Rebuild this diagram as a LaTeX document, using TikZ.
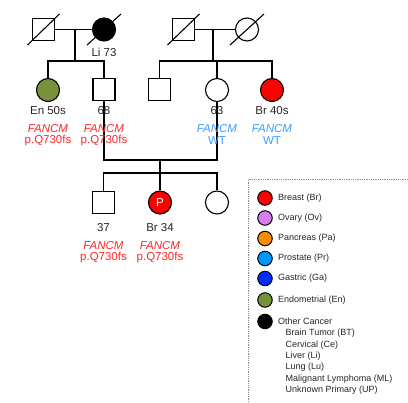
\documentclass[tikz,border=0pt]{standalone}
\usepackage{fontspec}
\setmainfont{Liberation Sans}
\definecolor{tred}{RGB}{255,40,40}
\definecolor{tblue}{RGB}{60,155,255}
\definecolor{cgreen}{RGB}{118,146,58}
\definecolor{cviolet}{RGB}{215,125,240}
\definecolor{corange}{RGB}{255,140,0}
\definecolor{cprost}{RGB}{0,150,255}
\definecolor{cgast}{RGB}{0,45,255}
\begin{document}
\begin{tikzpicture}[x=1pt,y=-1pt,
  male/.style={draw, rectangle, minimum size=22pt, inner sep=0pt, line width=1.1pt, fill=white},
  female/.style={draw, circle, minimum size=23pt, inner sep=0pt, line width=1.1pt, fill=white},
  con/.style={line width=1.1pt},
  dead/.style={line width=1.1pt},
  lbl/.style={font=\fontsize{11.5}{13}\selectfont, inner sep=0pt, text=black!85},
  mutr/.style={font=\fontsize{11.5}{13}\selectfont, inner sep=0pt, text=tred},
  mutb/.style={font=\fontsize{11.5}{13}\selectfont, inner sep=0pt, text=tblue},
  legc/.style={draw, circle, minimum size=14.5pt, inner sep=0pt, line width=1pt},
  legt/.style={font=\fontsize{9}{10}\selectfont, anchor=west, inner sep=0pt, text=black!85},
]
\useasboundingbox (0,0) rectangle (408,403);
% Generation 1 left
\node[male] (gf1) at (43.5,29.5) {};
\node[female, fill=black] (gm1) at (104,29.5) {};
\draw[dead] ([shift={(-16,15.5)}]gf1.center) -- ([shift={(16,-15.5)}]gf1.center);
\draw[dead] ([shift={(-17,15.5)}]gm1.center) -- ([shift={(17,-15.5)}]gm1.center);
\coordinate (m1) at (75,29.5);
\coordinate (d1) at (75,61);
\draw[con] (gf1.east) -- (gm1.west);
\draw[con] (m1) -- (d1);
% Generation 1 right
\node[male] (gf2) at (183.5,29.5) {};
\node[female] (gm2) at (247,29.5) {};
\draw[dead] ([shift={(-16,15.5)}]gf2.center) -- ([shift={(16,-15.5)}]gf2.center);
\draw[dead] ([shift={(-17,15.5)}]gm2.center) -- ([shift={(17,-15.5)}]gm2.center);
\coordinate (m2) at (213,29.5);
\coordinate (d2) at (213,61);
\draw[con] (gf2.east) -- (gm2.west);
\draw[con] (m2) -- (d2);
\node[lbl] (l_gm1) at (104,52) {Li 73};
% Generation 2
\node[female, fill=cgreen] (aunt) at (48,90) {};
\node[male] (father) at (104,89.5) {};
\node[male] (uncle) at (159.5,89.5) {};
\node[female] (mother) at (217,90) {};
\node[female, fill=red] (aunt2) at (272,90) {};
\draw[con] (aunt.north) |- (d1) -| (father.north);
\draw[con] (uncle.north) |- (d2) -| (aunt2.north);
\draw[con] (mother.north) -- (mother.north |- d2);
% Generation 2 marriage
\coordinate (m3a) at (104,160);
\coordinate (m3b) at (217,160);
\coordinate (m3) at (160,160);
\coordinate (d3) at (160,173);
\draw[con] (father.south) -- (m3a) -- (m3b) -- (mother.south);
\draw[con] (m3) -- (d3);
% labels gen 2
\node[lbl] (l_aunt) at (48,110.5) {En 50s};
\node[lbl] (l_father) at (104,110.5) {68};
\node[lbl] (l_mother) at (217,110.5) {63};
\node[lbl] (l_aunt2) at (272,110.5) {Br 40s};
\node[mutr] at (48,128.5) {\itshape FANCM};
\node[mutr] at (48,140.5) {p.Q730fs};
\node[mutr] at (104,128.5) {\itshape FANCM};
\node[mutr] at (104,140.5) {p.Q730fs};
\node[mutb] at (217,128.5) {\itshape FANCM};
\node[mutb] at (217,140.5) {WT};
\node[mutb] at (272,128.5) {\itshape FANCM};
\node[mutb] at (272,140.5) {WT};
% Generation 3
\node[male] (bro) at (103.5,202.5) {};
\node[female, fill=red] (prob) at (160,202.5) {\fontsize{11.5}{13}\selectfont\color{white}P};
\node[female] (sis) at (217,202.5) {};
\draw[con] (bro.north) |- (d3) -| (sis.north);
\draw[con] (prob.north) -- (prob.north |- d3);
\node[lbl] (l_bro) at (103.5,228) {37};
\node[lbl] (l_prob) at (160,228) {Br 34};
\node[mutr] at (103.5,246) {\itshape FANCM};
\node[mutr] at (103.5,258) {p.Q730fs};
\node[mutr] at (160,246) {\itshape FANCM};
\node[mutr] at (160,258) {p.Q730fs};
% Legend
\draw[black!45, densely dotted, line width=0.8pt] (248,402) -- (248,179.5) -- (408,179.5);
\node[legc, fill=red] (lg1) at (265,198) {};
\node[legt] at (278,198) {Breast (Br)};
\node[legc, fill=cviolet] (lg2) at (265,218) {};
\node[legt] at (278,218) {Ovary (Ov)};
\node[legc, fill=corange] (lg3) at (265,238.5) {};
\node[legt] at (278,238.5) {Pancreas (Pa)};
\node[legc, fill=cprost] (lg4) at (265,258.5) {};
\node[legt] at (278,258.5) {Prostate (Pr)};
\node[legc, fill=cgast] (lg5) at (265,278.5) {};
\node[legt] at (278,278.5) {Gastric (Ga)};
\node[legc, fill=cgreen] (lg6) at (265,300) {};
\node[legt] at (278,300) {Endometrial (En)};
\node[legc, fill=black] (lg7) at (265,321.5) {};
\node[legt] at (278,321.5) {Other Cancer};
\node[legt] at (285.5,333.5) {Brain Tumor (BT)};
\node[legt] at (285.5,345) {Cervical (Ce)};
\node[legt] at (285.5,356.5) {Liver (Li)};
\node[legt] at (285.5,367.5) {Lung (Lu)};
\node[legt] at (285.5,379) {Malignant Lymphoma (ML)};
\node[legt] at (285.5,390.5) {Unknown Primary (UP)};
\end{tikzpicture}
\end{document}
